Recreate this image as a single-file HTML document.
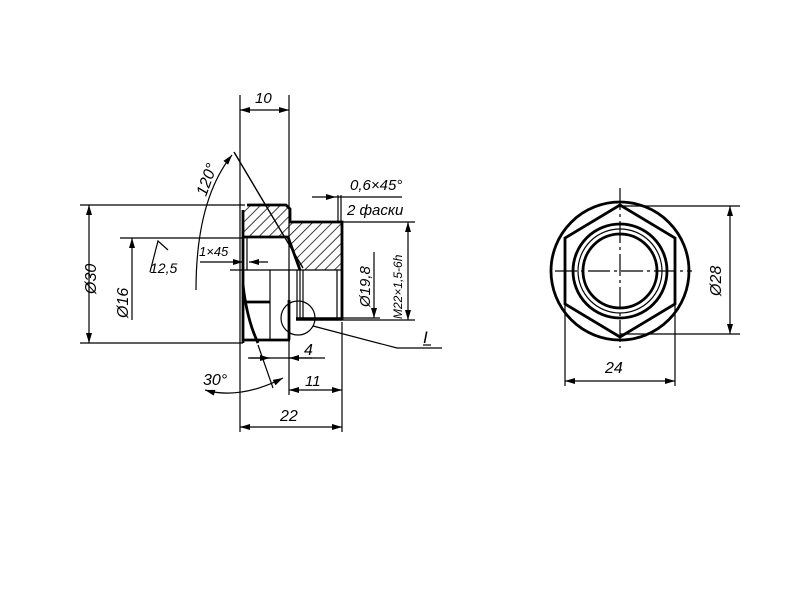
<!DOCTYPE html>
<html><head><meta charset="utf-8"><style>html,body{margin:0;padding:0;background:#fff}svg{display:block}</style></head><body>
<svg width="800" height="600" viewBox="0 0 800 600" xmlns="http://www.w3.org/2000/svg">
<defs>
<pattern id="h" width="7" height="7" patternUnits="userSpaceOnUse" patternTransform="rotate(45)"><line x1="0" y1="0" x2="0" y2="7" stroke="#000" stroke-width="1.5"/></pattern>
<marker id="a" viewBox="0 0 10 6" refX="10" refY="3" markerWidth="11" markerHeight="6" orient="auto-start-reverse" markerUnits="userSpaceOnUse"><path d="M0,0 L10,3 L0,6 Z" fill="#000"/></marker>
</defs>
<g fill="none" stroke="#000" stroke-width="1.2" font-family="Liberation Sans, sans-serif">
<path d="M243,205 L289,205 L289,237 L243,237 Z" fill="url(#h)" stroke="none"/>
<path d="M290,222 L342,222 L342,270 L300,270 L288,237 Z" fill="url(#h)" stroke="none"/>
<g stroke-width="2.8">
<path d="M247,205 L286,205 L290,209 L290,222 L296,222 L299,222 L342,222 L342,320"/>
<path d="M243,210 L243,343"/>
<path d="M243,237 L289,237"/>
<path d="M288,237 L300,270"/>
<path d="M296,319 L342,319" stroke-width="3.5"/>
<path d="M243,302 L270,302"/>
<path d="M243,340 L290,340"/>
<path d="M289,300 L289,340"/>
<path d="M243,285 Q247,320 258,343"/>
</g>
<path d="M247,237 L247,270 M270,270 L270,340 M289,270 L289,340 M297,270 L297,318 M300,270 L300,318 M303,270 L303,318 M337,270 L337,318"/>
<path d="M230,270 L342,270"/>
<path d="M240,95 L240,432 M289,95 L289,395 M342,322 L342,432"/>
<path d="M80,205 L245,205 M80,343 L243,343 M120,238 L243,238"/>
<path d="M342,222 L415,222 M342,320 L415,320 M342,318 L380,318"/>
<line x1="240" y1="110" x2="289" y2="110" marker-start="url(#a)" marker-end="url(#a)"/>
<text x="255" y="103" font-size="15" font-style="italic" fill="#000" stroke="none">10</text>
<line x1="89" y1="205" x2="89" y2="343" marker-start="url(#a)" marker-end="url(#a)"/>
<text x="0" y="0" font-size="16" font-style="italic" fill="#000" stroke="none" transform="translate(96,294) rotate(-90)">Ø30</text>
<line x1="132" y1="320" x2="132" y2="238" marker-end="url(#a)"/>
<text x="0" y="0" font-size="16" font-style="italic" fill="#000" stroke="none" transform="translate(128,318) rotate(-90)">Ø16</text>
<line x1="374" y1="252" x2="374" y2="318" marker-end="url(#a)"/>
<text x="0" y="0" font-size="15" font-style="italic" fill="#000" stroke="none" transform="translate(370,307) rotate(-90)">Ø19,8</text>
<line x1="408" y1="222" x2="408" y2="320" marker-start="url(#a)" marker-end="url(#a)"/>
<text x="0" y="0" font-size="12" font-style="italic" fill="#000" stroke="none" transform="translate(402,319) rotate(-90)">M22×1,5-6h</text>
<line x1="248" y1="358" x2="325" y2="358"/>
<line x1="312" y1="358" x2="289" y2="358" marker-end="url(#a)"/>
<line x1="250" y1="358" x2="270" y2="358" marker-end="url(#a)"/>
<text x="304" y="355" font-size="16" font-style="italic" fill="#000" stroke="none">4</text>
<line x1="289" y1="390" x2="342" y2="390" marker-start="url(#a)" marker-end="url(#a)"/>
<text x="305" y="386" font-size="15" font-style="italic" fill="#000" stroke="none">11</text>
<line x1="240" y1="427" x2="342" y2="427" marker-start="url(#a)" marker-end="url(#a)"/>
<text x="280" y="421" font-size="16" font-style="italic" fill="#000" stroke="none">22</text>
<line x1="312" y1="197" x2="336" y2="197" marker-end="url(#a)"/>
<line x1="336" y1="197" x2="402" y2="197"/>
<path d="M338,195 L338,222 M341,195 L341,222"/>
<text x="350" y="190" font-size="15" font-style="italic" fill="#000" stroke="none">0,6×45°</text>
<text x="347" y="215" font-size="15" font-style="italic" fill="#000" stroke="none">2 фаски</text>
<line x1="200" y1="262" x2="243" y2="262" marker-end="url(#a)"/>
<line x1="268" y1="262" x2="249" y2="262" marker-end="url(#a)"/>
<text x="199" y="256" font-size="13" font-style="italic" fill="#000" stroke="none">1×45</text>
<path d="M150,272 L158,241 L168,250"/>
<text x="150" y="273" font-size="14" font-style="italic" fill="#000" stroke="none">12,5</text>
<path d="M234,152 L303,268" stroke-width="1.4"/>
<path d="M196,290 Q196,200 232,155" marker-end="url(#a)"/>
<text x="0" y="0" font-size="16" font-style="italic" fill="#000" stroke="none" transform="translate(206,197) rotate(-70)">120°</text>
<path d="M258,345 L273,388"/>
<path d="M205,390 Q240,400 283,378" marker-start="url(#a)" marker-end="url(#a)"/>
<text x="203" y="385" font-size="16" font-style="italic" fill="#000" stroke="none">30°</text>
<circle cx="298" cy="318" r="17"/>
<path d="M313,326 L397,348 L442,348"/>
<text x="423" y="343" font-size="17" font-style="italic" fill="#000" stroke="none">I</text>
<path d="M423,345 L431,345"/>
<circle cx="620" cy="271" r="69" stroke-width="2.8"/>
<polygon points="620,205 675,238 675,304 620,337 565,304 565,238" stroke-width="2.8"/>
<circle cx="620" cy="271" r="47" stroke-width="2.8"/>
<circle cx="620" cy="271" r="42"/>
<circle cx="620" cy="271" r="37" stroke-width="2.8"/>
<path d="M555,271 L692,271 M620,188 L620,348" stroke-dasharray="22,4,3,4"/>
<path d="M620,206 L740,206 M620,334 L740,334"/>
<line x1="730" y1="206" x2="730" y2="334" marker-start="url(#a)" marker-end="url(#a)"/>
<text x="0" y="0" font-size="16" font-style="italic" fill="#000" stroke="none" transform="translate(721,296) rotate(-90)">Ø28</text>
<path d="M565,271 L565,386 M675,271 L675,386"/>
<line x1="565" y1="381" x2="675" y2="381" marker-start="url(#a)" marker-end="url(#a)"/>
<text x="605" y="373" font-size="16" font-style="italic" fill="#000" stroke="none">24</text>
</g>
</svg>
</body></html>
